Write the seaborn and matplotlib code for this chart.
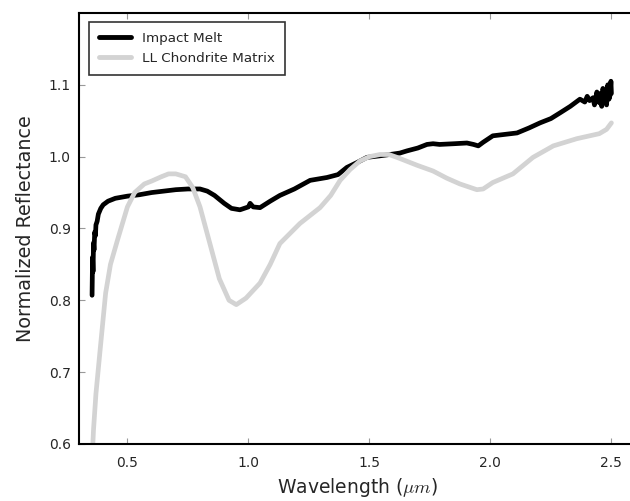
import numpy as np
import pandas as pd
import seaborn as sns
import matplotlib.pyplot as plt

# Impact Melt spectrum
melt_wl = [0.354, 0.356, 0.358, 0.36, 0.362, 0.365, 0.368, 0.37, 0.375, 0.38, 0.39, 0.40,
           0.42, 0.45, 0.50, 0.55, 0.60, 0.65, 0.70, 0.75, 0.80, 0.83, 0.86, 0.90,
           0.93, 0.965, 1.0, 1.007, 1.02, 1.048, 1.09, 1.13, 1.19, 1.255, 1.325, 1.37,
           1.407, 1.45, 1.49, 1.54, 1.585, 1.626, 1.655, 1.70, 1.738, 1.763, 1.79, 1.85,
           1.903, 1.93, 1.95, 1.97, 2.01, 2.06, 2.11, 2.16, 2.205, 2.25, 2.288, 2.33,
           2.37, 2.39, 2.40, 2.41, 2.424, 2.43, 2.44, 2.45, 2.455, 2.46, 2.465, 2.47,
           2.475, 2.48, 2.485, 2.49, 2.494, 2.498, 2.50]
melt_refl = [0.807, 0.86, 0.84, 0.88, 0.87, 0.895, 0.89, 0.905, 0.91, 0.92, 0.928, 0.933,
             0.938, 0.942, 0.945, 0.947, 0.950, 0.952, 0.954, 0.955, 0.955, 0.952, 0.946, 0.935,
             0.928, 0.926, 0.930, 0.935, 0.930, 0.929, 0.938, 0.946, 0.955, 0.967, 0.971, 0.975,
             0.985, 0.992, 0.999, 1.001, 1.003, 1.005, 1.008, 1.012, 1.017, 1.018, 1.017, 1.018,
             1.019, 1.017, 1.015, 1.020, 1.029, 1.031, 1.033, 1.040, 1.047, 1.053, 1.061, 1.070,
             1.080, 1.076, 1.084, 1.078, 1.082, 1.072, 1.090, 1.075, 1.088, 1.070, 1.095, 1.078,
             1.092, 1.072, 1.100, 1.080, 1.085, 1.105, 1.088]

# LL Chondrite Matrix spectrum
matrix_wl = [0.355, 0.36, 0.37, 0.387, 0.41, 0.43, 0.46, 0.50, 0.53, 0.57, 0.60, 0.64,
             0.67, 0.70, 0.74, 0.77, 0.80, 0.84, 0.88, 0.92, 0.95, 0.99, 1.048, 1.09,
             1.13, 1.213, 1.296, 1.34, 1.379, 1.42, 1.461, 1.50, 1.544, 1.58, 1.614, 1.697,
             1.763, 1.82, 1.874, 1.944, 1.97, 2.01, 2.093, 2.176, 2.26, 2.357, 2.45, 2.48,
             2.50]
matrix_refl = [0.585, 0.62, 0.67, 0.73, 0.81, 0.85, 0.885, 0.930, 0.950, 0.962, 0.966, 0.972,
               0.976, 0.976, 0.972, 0.957, 0.930, 0.880, 0.830, 0.800, 0.794, 0.803, 0.824, 0.850,
               0.879, 0.907, 0.929, 0.946, 0.967, 0.982, 0.994, 1.000, 1.003, 1.003, 0.999, 0.988,
               0.980, 0.970, 0.962, 0.954, 0.955, 0.964, 0.976, 0.999, 1.015, 1.025, 1.032, 1.038,
               1.047]

df = pd.concat([
    pd.DataFrame({'wl': melt_wl, 'refl': melt_refl, 'sample': 'Impact Melt'}),
    pd.DataFrame({'wl': matrix_wl, 'refl': matrix_refl, 'sample': 'LL Chondrite Matrix'}),
])

sns.set_style('ticks')
plt.rcParams['font.family'] = ['DejaVu Sans']
plt.rcParams['mathtext.fontset'] = 'cm'

fig = plt.figure(figsize=(6.3, 5.01), dpi=100)
ax = fig.add_axes([0.1254, 0.1138, 0.8835, 0.8603])

sns.lineplot(data=df, x='wl', y='refl', hue='sample', sort=False, estimator=None,
             palette={'Impact Melt': 'black', 'LL Chondrite Matrix': '#d3d3d3'},
             linewidth=3.4, ax=ax)

ax.set_xlim(0.3, 2.6)
ax.set_ylim(0.6, 1.2)
ax.set_xticks([0.5, 1.0, 1.5, 2.0, 2.5])
ax.set_yticks([0.6, 0.7, 0.8, 0.9, 1.0, 1.1])
ax.tick_params(direction='in', top=True, right=True, length=4, width=0.8,
               color='#999999', labelsize=10)
ax.tick_params(axis='x', pad=9)
ax.tick_params(axis='y', pad=6)
for s in ax.spines.values():
    s.set_linewidth(1.5)
    s.set_color('black')

ax.set_xlabel('Wavelength ($\\mu m$)', fontsize=13.5, labelpad=4)
ax.set_ylabel('Normalized Reflectance', fontsize=13.8, labelpad=10)

leg = ax.legend(loc='upper left', fontsize=9.7, frameon=True, fancybox=False,
                edgecolor='black', handlelength=2.4, borderpad=0.75,
                bbox_to_anchor=(0.005, 0.995))
leg.get_frame().set_linewidth(1.2)
for line in leg.get_lines():
    line.set_linewidth(3.5)

fig.savefig('out.png', dpi=100)
